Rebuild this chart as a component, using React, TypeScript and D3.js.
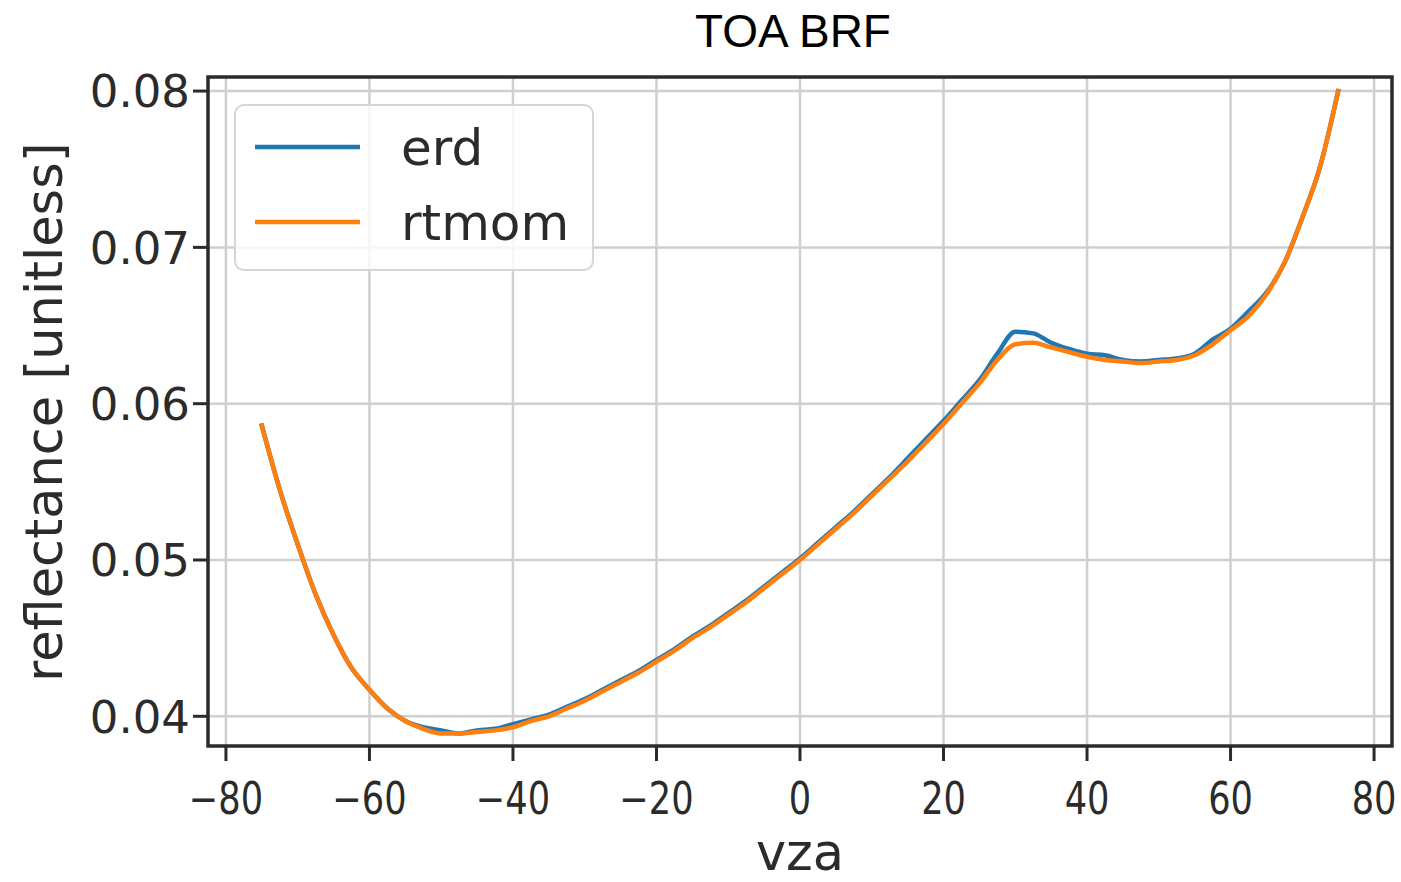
import React, { useEffect } from 'react';
import * as d3 from 'd3';

// viewing zenith angle [deg]
const vza = [
  -75, -72.5, -70, -67.5, -65, -62.5, -60, -57.5, -55, -52.5, -50, -47.5, -45, -42.5, -40,
  -37.5, -35, -32.5, -30, -27.5, -25, -22.5, -20, -17.5, -15, -12.5, -10, -7.5, -5, -2.5,
  0, 2.5, 5, 7.5, 10, 12.5, 15, 17.5, 20, 22.5, 25, 27.5, 30, 32.5, 35, 37.5, 40, 42.5,
  45, 47.5, 50, 52.5, 55, 57.5, 60, 62.5, 65, 67.5, 70, 72.5, 75,
];

const erd = [
  0.0586, 0.0545, 0.0510, 0.0478, 0.0452, 0.0431, 0.0417, 0.0405, 0.0397, 0.0393, 0.0391,
  0.0389, 0.0391, 0.0392, 0.0395, 0.0398, 0.0401, 0.0406, 0.0411, 0.0417, 0.0423, 0.0429,
  0.0436, 0.0443, 0.0451, 0.0458, 0.0466, 0.0474, 0.0483, 0.0492, 0.0501, 0.0511, 0.0521,
  0.0531, 0.0542, 0.0553, 0.0565, 0.0577, 0.0589, 0.0602, 0.0615, 0.0632, 0.0646, 0.0645,
  0.0639, 0.0635, 0.0632, 0.0631, 0.0628, 0.0627, 0.0628, 0.0629, 0.0632, 0.0641, 0.0648,
  0.0659, 0.0671, 0.0690, 0.0719, 0.0752, 0.0800,
];

const rtmom = [
  0.0586, 0.0545, 0.0510, 0.0478, 0.0452, 0.0431, 0.0417, 0.0405, 0.0397, 0.0392, 0.0389,
  0.0389, 0.0390, 0.0391, 0.0393, 0.0397, 0.0400, 0.0405, 0.0410, 0.0416, 0.0422, 0.0428,
  0.0435, 0.0442, 0.0450, 0.0457, 0.0465, 0.0473, 0.0482, 0.0491, 0.0500, 0.0510, 0.0520,
  0.0530, 0.0541, 0.0552, 0.0563, 0.0575, 0.0587, 0.0600, 0.0613, 0.0628, 0.0638, 0.0639,
  0.0636, 0.0633, 0.0630, 0.0628, 0.0627, 0.0626, 0.0627, 0.0628, 0.0631, 0.0638, 0.0647,
  0.0656, 0.0670, 0.0690, 0.0719, 0.0752, 0.0800,
];

const xTicks = [-80, -60, -40, -20, 0, 20, 40, 60, 80];
const yTicks = [0.04, 0.05, 0.06, 0.07, 0.08];

const series = [
  { name: 'erd', values: erd, color: '#1f77b4' },
  { name: 'rtmom', values: rtmom, color: '#ff7f0e' },
];

const W = 1401;
const H = 882;
const plot = { left: 208, right: 1392, top: 77, bottom: 746 };
const ink = '#2b2b2b';
const tickFont = 'DejaVu Sans, sans-serif';

export default function App() {
  useEffect(() => {
    document.body.style.margin = '0';
  }, []);

  const x = d3.scaleLinear().domain([-82.5, 82.5]).range([plot.left, plot.right]);
  const y = d3.scaleLinear().domain([0.0381, 0.0809]).range([plot.bottom, plot.top]);

  const line = d3
    .line<number>()
    .x((_, i) => x(vza[i]))
    .y((d) => y(d))
    .curve(d3.curveMonotoneX);

  return (
    <svg width={W} height={H} style={{ display: 'block', background: '#fff' }}>
      {/* grid */}
      {xTicks.map((t) => (
        <line key={'gx' + t} x1={x(t)} x2={x(t)} y1={plot.top} y2={plot.bottom} stroke="#cfcfcf" strokeWidth={2.5} />
      ))}
      {yTicks.map((t) => (
        <line key={'gy' + t} x1={plot.left} x2={plot.right} y1={y(t)} y2={y(t)} stroke="#cfcfcf" strokeWidth={2.5} />
      ))}

      {/* curves */}
      {series.map((s) => (
        <path key={s.name} d={line(s.values) || ''} fill="none" stroke={s.color} strokeWidth={4.5} strokeLinejoin="round" strokeLinecap="square" />
      ))}

      {/* spines */}
      <rect x={plot.left} y={plot.top} width={plot.right - plot.left} height={plot.bottom - plot.top} fill="none" stroke={ink} strokeWidth={3.5} />

      {/* x ticks */}
      {xTicks.map((t) => (
        <g key={'tx' + t} transform={`translate(${x(t)},0)`}>
          <line y1={plot.bottom} y2={plot.bottom + 15} stroke={ink} strokeWidth={3} />
          <text
            y={plot.bottom + 68}
            textAnchor="middle"
            transform="scale(0.8,1)"
            fontFamily={tickFont}
            fontSize={44}
            fill={ink}
          >
            {t < 0 ? '\u2212' + Math.abs(t) : String(t)}
          </text>
        </g>
      ))}

      {/* y ticks */}
      {yTicks.map((t) => (
        <g key={'ty' + t} transform={`translate(0,${y(t)})`}>
          <line x1={plot.left - 15} x2={plot.left} stroke={ink} strokeWidth={3} />
          <text x={190} dy="0.36em" textAnchor="end" fontFamily={tickFont} fontSize={45} fill={ink}>
            {t.toFixed(2)}
          </text>
        </g>
      ))}

      {/* axis labels */}
      <text x={x(0)} y={870} textAnchor="middle" fontFamily={tickFont} fontSize={51} fill={ink}>
        vza
      </text>
      <text
        transform={`translate(62,${412}) rotate(-90)`}
        textAnchor="middle"
        fontFamily={tickFont}
        fontSize={51}
        fill={ink}
      >
        reflectance [unitless]
      </text>

      {/* title */}
      <text x={793} y={47} textAnchor="middle" fontFamily="Liberation Sans, Arial, sans-serif" fontSize={46} fill="#000">
        TOA BRF
      </text>

      {/* legend */}
      <g>
        <rect x={235} y={105} width={358} height={165} rx={9} fill="#fff" fillOpacity={0.8} stroke="#d6d6d6" strokeWidth={2} />
        {series.map((s, i) => (
          <g key={'lg' + s.name} transform={`translate(0,${147 + i * 75})`}>
            <line x1={255} x2={360} stroke={s.color} strokeWidth={4.5} />
            <text x={401} dy="0.36em" fontFamily={tickFont} fontSize={50} fill={ink}>
              {s.name}
            </text>
          </g>
        ))}
      </g>
    </svg>
  );
}
